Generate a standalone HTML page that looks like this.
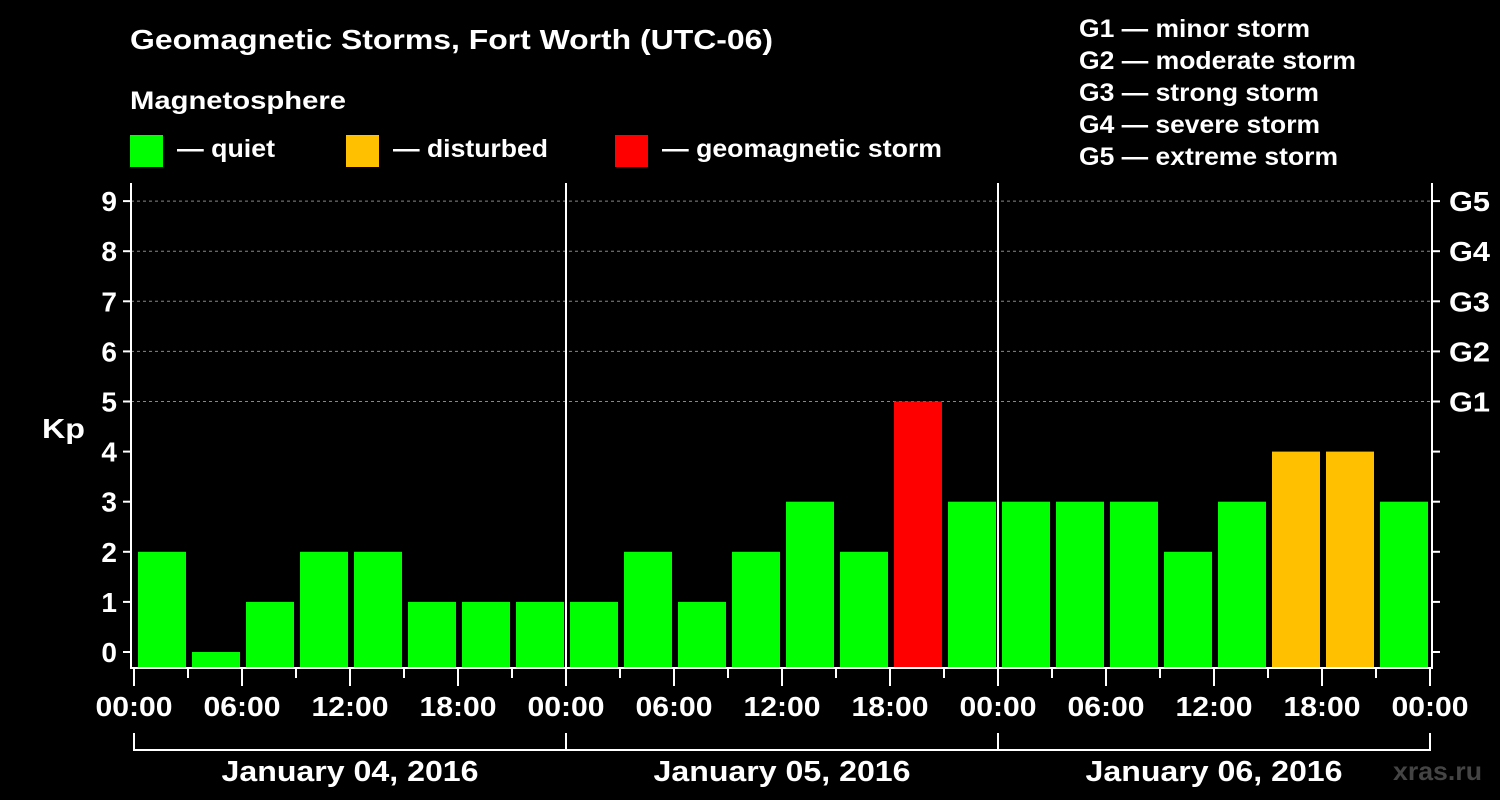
<!DOCTYPE html>
<html><head><meta charset="utf-8"><style>
html,body{margin:0;padding:0;background:#000;}
svg{display:block;font-family:"Liberation Sans",Arial,sans-serif;font-weight:bold;}
</style></head><body>
<svg id="chart" width="1500" height="800" xmlns="http://www.w3.org/2000/svg">
<rect width="1500" height="800" fill="#000"/>
<text x="130" y="49" fill="#fff" font-size="28" textLength="643" lengthAdjust="spacingAndGlyphs">Geomagnetic Storms, Fort Worth (UTC-06)</text>
<text x="130" y="109" fill="#fff" font-size="25" textLength="216" lengthAdjust="spacingAndGlyphs">Magnetosphere</text>
<g><rect x="130" y="135" width="33" height="32" fill="#00ff00"/><text x="177" y="157" fill="#fff" font-size="25" textLength="98" lengthAdjust="spacingAndGlyphs">— quiet</text></g>
<g><rect x="346" y="135" width="33" height="32" fill="#ffc000"/><text x="393" y="157" fill="#fff" font-size="25" textLength="155" lengthAdjust="spacingAndGlyphs">— disturbed</text></g>
<g><rect x="615" y="135" width="33" height="32" fill="#ff0000"/><text x="662" y="157" fill="#fff" font-size="25" textLength="280" lengthAdjust="spacingAndGlyphs">— geomagnetic storm</text></g>
<g fill="#fff" font-size="25" lengthAdjust="spacingAndGlyphs">
<text x="1079" y="37" textLength="231" lengthAdjust="spacingAndGlyphs">G1 — minor storm</text><text x="1079" y="69" textLength="277" lengthAdjust="spacingAndGlyphs">G2 — moderate storm</text><text x="1079" y="101" textLength="240" lengthAdjust="spacingAndGlyphs">G3 — strong storm</text><text x="1079" y="133" textLength="241" lengthAdjust="spacingAndGlyphs">G4 — severe storm</text><text x="1079" y="165" textLength="259" lengthAdjust="spacingAndGlyphs">G5 — extreme storm</text>
</g>
<text x="42" y="438" fill="#fff" font-size="28" textLength="43" lengthAdjust="spacingAndGlyphs">Kp</text>
<text x="1393" y="780" fill="#444" font-size="26" textLength="89" lengthAdjust="spacingAndGlyphs">xras.ru</text>
<g id="plot"></g>
</svg>
<script>
const kpValues=[2,0,1,2,2,1,1,1, 1,2,1,2,3,2,5,3, 3,3,3,2,3,4,4,3];
const dayLabels=["January 04, 2016","January 05, 2016","January 06, 2016"];
const hourLabels=["00:00","06:00","12:00","18:00"];
const gLabels=["G1","G2","G3","G4","G5"];
const yTicks=[0,1,2,3,4,5,6,7,8,9];
const NS="http://www.w3.org/2000/svg";
const g=document.getElementById('plot');
const L=134,R=1430,T=183,B=668,X0=131,X1=1432;
const xs=i=>L+(R-L)*i/kpValues.length;
const ys=v=>652-v*50.1;
function mk(t,a,p){const e=document.createElementNS(NS,t);for(const k in a)e.setAttribute(k,a[k]);(p||g).appendChild(e);return e;}
for(const v of yTicks){
 if(v>=5){const l=mk('line',{x1:X0,x2:X1,y1:ys(v),y2:ys(v),stroke:'#888','stroke-dasharray':'3,3','stroke-width':1});
 
 }
 const t=mk('line',{x1:X0-8,x2:X0,y1:ys(v),y2:ys(v),stroke:'#fff','stroke-width':2});
 
 
 const t2=mk('line',{x1:X1,x2:X1+8,y1:ys(v),y2:ys(v),stroke:'#fff','stroke-width':2});
 
 
 const tx=mk('text',{x:X0-14,y:ys(v)+10,fill:'#fff','font-size':28,'text-anchor':'end'});
 tx.textContent=v;
 
 
}
gLabels.forEach((s,i)=>{const tx=mk('text',{x:X1+17,y:ys(5+i)+10,fill:'#fff','font-size':28,textLength:41,lengthAdjust:'spacingAndGlyphs'});tx.textContent=s;
 
 });
kpValues.forEach((v,i)=>{
 const c=v>=5?'#ff0000':(v>=4?'#ffc000':'#00ff00');
 const b=mk('rect',{x:xs(i)+4,y:ys(v),width:(R-L)/kpValues.length-6,height:B-ys(v),fill:c});
 
 
});
const f=mk('path',{d:`M${X0},${T}V${B}H${X1}V${T}`,fill:'none',stroke:'#fff','stroke-width':2});


for(let i=0;i<=kpValues.length;i++){
 const x=xs(i);const major=i%2==0;
 const t=mk('line',{x1:x,x2:x,y1:B,y2:B+(major?18:10),stroke:'#fff','stroke-width':2});
 
 
 if(major){const tx=mk('text',{x:x,y:716,fill:'#fff','font-size':28,'text-anchor':'middle',textLength:77,lengthAdjust:'spacingAndGlyphs'});
  tx.textContent=hourLabels[(i/2)%4];
  
  }
}
dayLabels.forEach((d,k)=>{
 const xa=xs(k*8),xb=xs(k*8+8);
 if(k>0){const s=mk('line',{x1:xa,x2:xa,y1:T,y2:B,stroke:'#fff','stroke-width':2});
  
  }
 const br=mk('path',{d:`M${xa},733V750H${xb}V733`,fill:'none',stroke:'#fff','stroke-width':2});
 
 
 const tx=mk('text',{x:(xa+xb)/2,y:781,fill:'#fff','font-size':29,'text-anchor':'middle',textLength:257,lengthAdjust:'spacingAndGlyphs'});
 tx.textContent=d;
 
 
});
</script>
</body></html>
